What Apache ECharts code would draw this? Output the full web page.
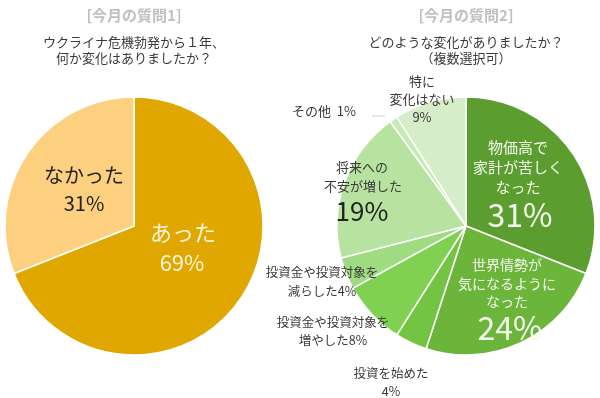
<!DOCTYPE html>
<html>
<head>
<meta charset="utf-8">
<script src="https://cdn.jsdelivr.net/npm/echarts@6/dist/echarts.min.js"></script>
<style>
  html, body { margin: 0; padding: 0; background: #fff; }
  #main { width: 600px; height: 398px; }
</style>
</head>
<body>
<div id="main"></div>
<script>
var q1Names = ['あった', 'なかった'];
var q1Values = [69, 31];
var q1Colors = ['#dfa700', '#fdd07f'];

var q2Names = ['物価高で家計が苦しくなった', '世界情勢が気になるようになった', '投資を始めた',
    '投資金や投資対象を増やした', '投資金や投資対象を減らした', '将来への不安が増した', 'その他', '特に変化はない'];
var q2Values = [31, 24, 4, 8, 4, 19, 1, 9];
var q2Colors = ['#5b9e2f', '#6bb53b', '#73c443', '#80d152', '#9fdb80', '#b7e2a0', '#c8eab6', '#d5edc8'];

var font = '"Noto Sans CJK JP", sans-serif';
var chartDom = document.getElementById('main');
var myChart = echarts.init(chartDom);

function txt(x, y, s, size, color, weight) {
    return {
        type: 'text', x: x, y: y, z: 100,
        style: {
            text: s, fontSize: size, fill: color, fontFamily: font,
            fontWeight: weight || 'normal', align: 'center', verticalAlign: 'middle'
        }
    };
}

var dark = '#3a3a3a';
var labels = [
    txt(134, 15, '[今月の質問1]', 15, '#c0c0c0', 'bold'),
    txt(134, 42, 'ウクライナ危機勃発から１年、', 13, dark),
    txt(134, 58, '何か変化はありましたか？', 13, dark),
    txt(84, 175, 'なかった', 20, '#222'),
    txt(84, 203, '31%', 20, '#222'),
    txt(183, 233, 'あった', 22, '#fff6d8'),
    txt(182, 263, '69%', 22, '#fff6d8'),

    txt(466, 15, '[今月の質問2]', 15, '#c0c0c0', 'bold'),
    txt(466, 42, 'どのような変化がありましたか？', 13, dark),
    txt(466, 58, '（複数選択可）', 13, dark),
    txt(422, 81, '特に', 13, dark),
    txt(422, 99, '変化はない', 13, dark),
    txt(422, 117, '9%', 13, dark),
    txt(324, 111, 'その他  1%', 13, dark),
    txt(362, 167, '将来への', 13, dark),
    txt(363, 186, '不安が増した', 13, dark),
    txt(362, 211, '19%', 26, '#222'),
    txt(518, 147, '物価高で', 15, '#f4fbee'),
    txt(518, 167, '家計が苦しく', 15, '#f4fbee'),
    txt(518, 187, 'なった', 15, '#f4fbee'),
    txt(520, 215, '31%', 32, '#f4fbee'),
    txt(507, 265, '世界情勢が', 14, '#f4fbee'),
    txt(507, 284, '気になるように', 14, '#f4fbee'),
    txt(507, 302, 'なった', 14, '#f4fbee'),
    txt(510, 328, '24%', 32, '#f4fbee'),
    txt(322, 272, '投資金や投資対象を', 12.5, dark),
    txt(322, 291, '減らした4%', 12.5, dark),
    txt(333, 322, '投資金や投資対象を', 12.5, dark),
    txt(333, 340, '増やした8%', 12.5, dark),
    txt(391, 373, '投資を始めた', 12.5, dark),
    txt(391, 391, '4%', 12.5, dark),
    {
        type: 'line', z: 100,
        shape: { x1: 372, y1: 116, x2: 385, y2: 116 },
        style: { stroke: '#d0d0d0', lineWidth: 1 }
    }
];

var option = {
    animation: false,
    graphic: labels,
    series: [
        {
            type: 'pie',
            center: [134, 226],
            radius: [0, 129],
            startAngle: 90,
            clockwise: true,
            label: { show: false },
            labelLine: { show: false },
            itemStyle: { borderColor: '#fff', borderWidth: 1.5 },
            data: q1Names.map(function (n, i) {
                return { name: n, value: q1Values[i], itemStyle: { color: q1Colors[i] } };
            })
        },
        {
            type: 'pie',
            center: [466, 226],
            radius: [0, 129],
            startAngle: 90,
            clockwise: true,
            label: { show: false },
            labelLine: { show: false },
            itemStyle: { borderColor: '#fff', borderWidth: 1.5 },
            data: q2Names.map(function (n, i) {
                return { name: n, value: q2Values[i], itemStyle: { color: q2Colors[i] } };
            })
        }
    ]
};

myChart.setOption(option);
</script>
</body>
</html>
